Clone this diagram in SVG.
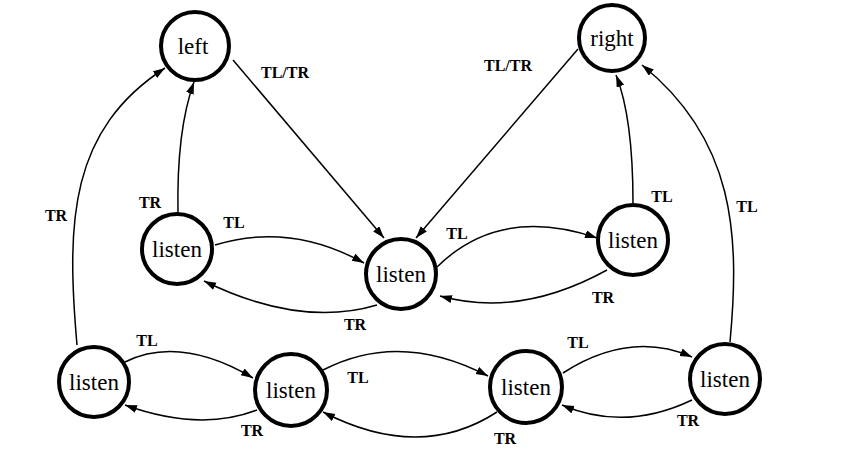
<svg xmlns="http://www.w3.org/2000/svg" width="843" height="457" viewBox="0 0 843 457">
<style>
.node circle{fill:#fff;stroke:#000;stroke-width:4}
.node text{font-size:23px;text-anchor:middle;dominant-baseline:central;fill:#000}
.edge{fill:none;stroke:#000;stroke-width:1.5}
.lbl{font-size:16px;font-weight:bold;text-anchor:middle;dominant-baseline:central;fill:#000}
</style>
<defs>
<marker id="arr" markerUnits="userSpaceOnUse" markerWidth="13" markerHeight="10" refX="12" refY="4" orient="auto">
<path d="M0,0 L12,4 L0,8 Z" fill="#000"/>
</marker>
</defs>
<rect width="843" height="457" fill="#fff"/>
<g id="connectors" font-family="Liberation Serif, DejaVu Serif, serif">
<path class="edge" marker-end="url(#arr)" d="M233,60 L384,238"/>
<path class="edge" marker-end="url(#arr)" d="M578,49 L416,238"/>
<path class="edge" marker-end="url(#arr)" d="M178,213 C177,160 182,115 194,82"/>
<path class="edge" marker-end="url(#arr)" d="M215,245 Q290,222 364,263"/>
<path class="edge" marker-end="url(#arr)" d="M377,305 Q300,328 204,281"/>
<path class="edge" marker-end="url(#arr)" d="M437,267 Q500,205 597,238"/>
<path class="edge" marker-end="url(#arr)" d="M607,270 Q520,318 440,296"/>
<path class="edge" marker-end="url(#arr)" d="M633,203 C633,140 626,100 616,75"/>
<path class="edge" marker-end="url(#arr)" d="M730,342 C740,235 735,140 642,65"/>
<path class="edge" marker-end="url(#arr)" d="M77,345 C66,220 70,130 165,68"/>
<path class="edge" marker-end="url(#arr)" d="M125,362 Q180,335 253,378"/>
<path class="edge" marker-end="url(#arr)" d="M257,410 Q200,432 125,405"/>
<path class="edge" marker-end="url(#arr)" d="M323,370 Q400,330 488,376"/>
<path class="edge" marker-end="url(#arr)" d="M497,412 Q420,462 323,412"/>
<path class="edge" marker-end="url(#arr)" d="M563,373 Q630,330 692,357"/>
<path class="edge" marker-end="url(#arr)" d="M692,400 Q625,432 562,405"/>
<text class="lbl" x="285" y="72">TL/TR</text>
<text class="lbl" x="508" y="65">TL/TR</text>
<text class="lbl" x="150" y="202">TR</text>
<text class="lbl" x="234" y="222">TL</text>
<text class="lbl" x="355" y="324">TR</text>
<text class="lbl" x="457" y="233">TL</text>
<text class="lbl" x="603" y="297">TR</text>
<text class="lbl" x="662" y="196">TL</text>
<text class="lbl" x="747" y="206">TL</text>
<text class="lbl" x="56" y="215">TR</text>
<text class="lbl" x="147" y="340">TL</text>
<text class="lbl" x="252" y="430">TR</text>
<text class="lbl" x="358" y="377">TL</text>
<text class="lbl" x="505" y="438">TR</text>
<text class="lbl" x="578" y="342">TL</text>
<text class="lbl" x="688" y="420">TR</text>
</g>
<g font-family="Liberation Serif, DejaVu Serif, serif">
<g id="left" class="node"><circle cx="195" cy="46" r="34"/><text x="193" y="46">left</text></g>
<g id="right" class="node"><circle cx="612" cy="38" r="33"/><text x="612" y="38">right</text></g>
<g id="listen_ml" class="node"><circle cx="177" cy="249" r="35"/><text x="177" y="249">listen</text></g>
<g id="listen_c" class="node"><circle cx="401" cy="274" r="35"/><text x="401" y="274">listen</text></g>
<g id="listen_mr" class="node"><circle cx="633" cy="240" r="35"/><text x="633" y="240">listen</text></g>
<g id="listen_b1" class="node"><circle cx="94" cy="382" r="35"/><text x="94" y="382">listen</text></g>
<g id="listen_b2" class="node"><circle cx="291" cy="390" r="36"/><text x="291" y="390">listen</text></g>
<g id="listen_b3" class="node"><circle cx="526" cy="387" r="36"/><text x="526" y="387">listen</text></g>
<g id="listen_b4" class="node"><circle cx="725" cy="379" r="35"/><text x="725" y="379">listen</text></g>
</g>
</svg>
